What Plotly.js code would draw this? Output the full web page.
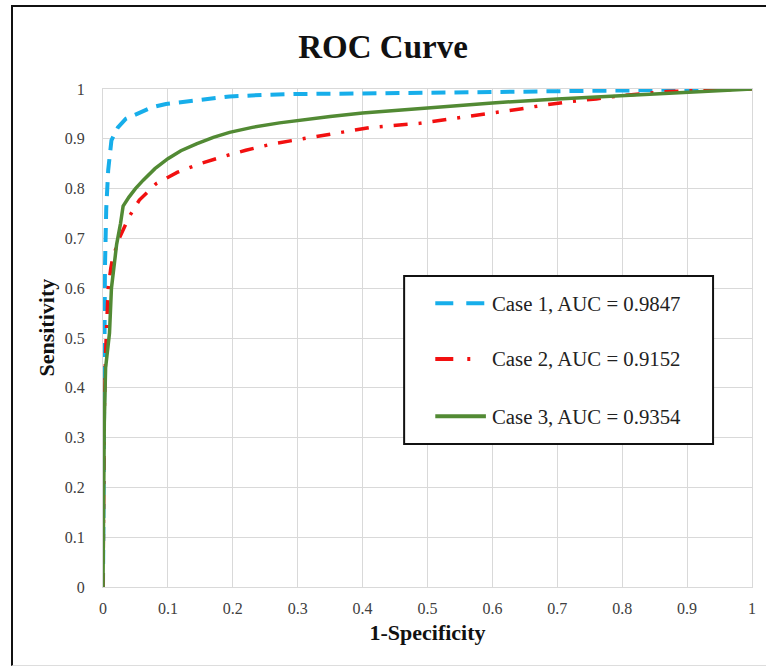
<!DOCTYPE html>
<html>
<head>
<meta charset="utf-8">
<script src="https://cdn.plot.ly/plotly-3.0.1.min.js"></script>
<style>
  html, body { margin: 0; padding: 0; background: #fff; }
  #wrap { position: relative; width: 766px; height: 669px; }
  #chart { width: 766px; height: 669px; }
  #frame { position: absolute; left: 11px; top: 5px; width: 770px; height: 658px;
           border-left: 2px solid #111; border-top: 2px solid #111; border-bottom: 1px solid #ddd;
           pointer-events: none; }
</style>
</head>
<body>
<div id="wrap">
  <div id="chart"></div>
  <div id="frame"></div>
</div>
<script>
// ---- Data ----
const seriesNames = ["Case 1, AUC = 0.9847", "Case 2, AUC = 0.9152", "Case 3, AUC = 0.9354"];

const fpr1 = [0, 0.001, 0.002, 0.003, 0.005, 0.008, 0.013, 0.023, 0.035, 0.056, 0.075, 0.097, 0.144, 0.195, 0.246, 0.3, 0.4, 0.5, 0.6, 0.7, 0.8, 0.85, 0.9, 1];
const tpr1 = [0, 0.4, 0.55, 0.64, 0.76, 0.837, 0.897, 0.923, 0.94, 0.953, 0.963, 0.97, 0.977, 0.985, 0.988, 0.99, 0.991, 0.992, 0.994, 0.995, 0.997, 0.998, 1, 1];

const fpr2 = [0, 0.001, 0.002, 0.004, 0.006, 0.008, 0.012, 0.015, 0.025, 0.033, 0.041, 0.056, 0.082, 0.115, 0.149, 0.187, 0.22, 0.262, 0.3, 0.339, 0.413, 0.488, 0.566, 0.643, 0.676, 0.721, 0.76, 0.8, 0.87, 0.93, 1];
const tpr2 = [0, 0.2, 0.35, 0.47, 0.555, 0.6, 0.64, 0.661, 0.70, 0.721, 0.745, 0.777, 0.81, 0.833, 0.85, 0.865, 0.877, 0.89, 0.898, 0.907, 0.923, 0.931, 0.945, 0.96, 0.967, 0.975, 0.98, 0.987, 0.995, 0.998, 1];

const fpr3 = [0, 0.001, 0.002, 0.004, 0.007, 0.010, 0.013, 0.017, 0.021, 0.027, 0.031, 0.04, 0.05, 0.062, 0.08, 0.1, 0.12, 0.144, 0.17, 0.195, 0.23, 0.272, 0.3, 0.35, 0.4, 0.5, 0.6, 0.7, 0.8, 0.9, 0.95, 1];
const tpr3 = [0, 0.2, 0.33, 0.44, 0.48, 0.51, 0.60, 0.65, 0.688, 0.73, 0.765, 0.783, 0.8, 0.817, 0.84, 0.86, 0.876, 0.89, 0.903, 0.913, 0.923, 0.932, 0.937, 0.945, 0.952, 0.962, 0.972, 0.98, 0.987, 0.994, 0.997, 1];

const tickVals = [0, 0.1, 0.2, 0.3, 0.4, 0.5, 0.6, 0.7, 0.8, 0.9, 1];
const tickText = ["0", "0.1", "0.2", "0.3", "0.4", "0.5", "0.6", "0.7", "0.8", "0.9", "1"];

// ---- Styles ----
const colors = ["#17AEEA", "#F21010", "#528A34"];
const dashes = ["14px,9px", "14px,11px,3px,11px", "solid"];
const widths = [4, 3.5, 3.5];
const serif = "Liberation Serif";

const xs = [fpr1, fpr2, fpr3];
const ys = [tpr1, tpr2, tpr3];

const traces = xs.map((x, i) => ({
  type: "scatter", mode: "lines", x: x, y: ys[i], name: seriesNames[i],
  line: { color: colors[i], width: widths[i], dash: dashes[i] },
  showlegend: false, hoverinfo: "x+y+name"
}));

// Manual legend box (paper coordinates)
const lg = { x0: 0.464, x1: 0.940, y0: 0.287, y1: 0.6245, rows: [0.570, 0.458, 0.343], lx0: 0.512, lx1: 0.590, tx: 0.597 };
const legendDashes = ["18px,13px", "18px,14px,3px,20px", "solid"];

const shapes = [{
  type: "rect", xref: "paper", yref: "paper", x0: lg.x0, x1: lg.x1, y0: lg.y0, y1: lg.y1,
  line: { color: "#111", width: 2 }, fillcolor: "#fff", layer: "above"
}];
const annotations = [];
seriesNames.forEach((n, i) => {
  shapes.push({ type: "line", xref: "paper", yref: "paper", x0: lg.lx0, x1: lg.lx1, y0: lg.rows[i], y1: lg.rows[i],
    line: { color: colors[i], width: 4, dash: legendDashes[i] }, layer: "above" });
  annotations.push({ xref: "paper", yref: "paper", x: lg.tx, y: lg.rows[i], xanchor: "left", yanchor: "middle",
    text: n, showarrow: false, font: { family: serif, size: 20.8, color: "#222" } });
});

// y-axis title (placed slightly above the plot's vertical centre, as in the reference)
annotations.push({ xref: "paper", yref: "paper", x: -0.087, y: 0.52, xanchor: "center", yanchor: "middle",
  textangle: -90, text: "<b>Sensitivity</b>", showarrow: false, font: { family: serif, size: 22, color: "#111" } });

const axisCommon = {
  range: [0, 1], tickvals: tickVals, ticktext: tickText,
  showgrid: true, gridcolor: "#D9D9D9", gridwidth: 1,
  showline: true, mirror: true, linecolor: "#D9D9D9", linewidth: 1,
  zeroline: false, ticks: "", fixedrange: true,
  tickfont: { family: serif, size: 16, color: "#404040" }
};

const layout = {
  width: 766, height: 669,
  margin: { l: 103, r: 14, t: 89, b: 82 },
  paper_bgcolor: "#fff", plot_bgcolor: "#fff",
  title: { text: "<b>ROC Curve</b>", font: { family: serif, size: 33, color: "#111" },
           x: 0.5, xref: "container", y: 1 - 46 / 669, yref: "container", yanchor: "middle" },
  xaxis: Object.assign({}, axisCommon, {
    ticklabelstandoff: 7,
    title: { text: "<b>1-Specificity</b>", font: { family: serif, size: 22, color: "#111" }, standoff: 8 }
  }),
  yaxis: Object.assign({}, axisCommon, {
    ticklabelstandoff: 14
  }),
  shapes: shapes,
  annotations: annotations,
  showlegend: false
};

Plotly.newPlot("chart", traces, layout, { displayModeBar: false, staticPlot: true });
</script>
</body>
</html>
